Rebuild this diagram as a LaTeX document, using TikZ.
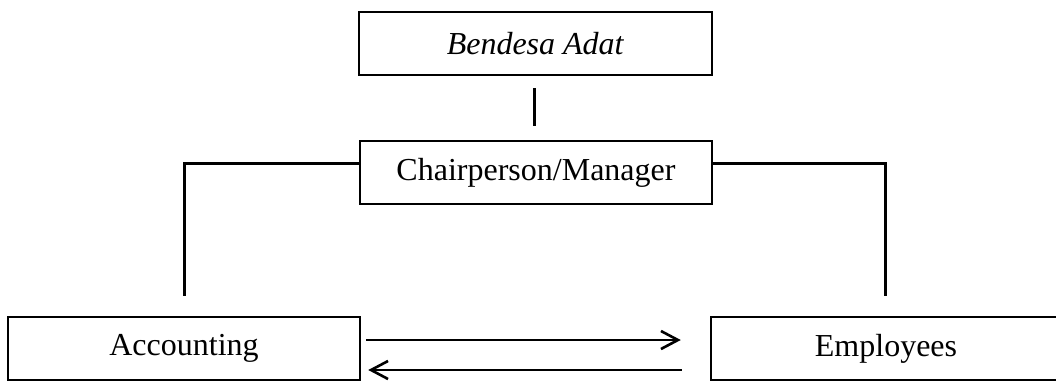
\documentclass[tikz,border=0pt]{standalone}
\usepackage{fontspec}
\setmainfont{Liberation Serif}
\usetikzlibrary{arrows.meta,calc}
\begin{document}
\begin{tikzpicture}[x=1pt,y=-1pt,
  orgbox/.style={draw,line width=2.5pt,minimum height=63pt,inner sep=0pt,font=\fontsize{32}{36}\selectfont},
  link/.style={line width=3pt},
  flow/.style={line width=2.6pt,-{Straight Barb[length=17pt,width=18pt,line width=2.6pt]}}]
\useasboundingbox (0,0) rectangle (1056,381);
\node[orgbox,minimum width=353pt] (bendesa) at (535.5,43.5) {\textit{Bendesa Adat}};
\node[orgbox,minimum width=352pt] (chair) at (536,172.5) {Chairperson/Manager};
\node[orgbox,minimum width=352pt] (acc) at (184,348.5) {Accounting};
\node[orgbox,minimum width=350pt] (emp) at (886,348.5) {Employees};
\draw[link] ($(bendesa.south)+(-1.5,12)$) -- ($(chair.north)+(-2,-14)$);
\draw[link] ([yshift=9pt]chair.west) -| ([yshift=20pt]acc.north);
\draw[link] ([yshift=9pt]chair.east) -| ([yshift=20pt,xshift=-1pt]emp.north);
\draw[flow] ([xshift=5pt,yshift=8.5pt]acc.east) -- ([xshift=-29pt,yshift=8.5pt]emp.west);
\draw[flow] ([xshift=-28pt,yshift=-21.5pt]emp.west) -- ([xshift=7pt,yshift=-21.5pt]acc.east);
\end{tikzpicture}
\end{document}
